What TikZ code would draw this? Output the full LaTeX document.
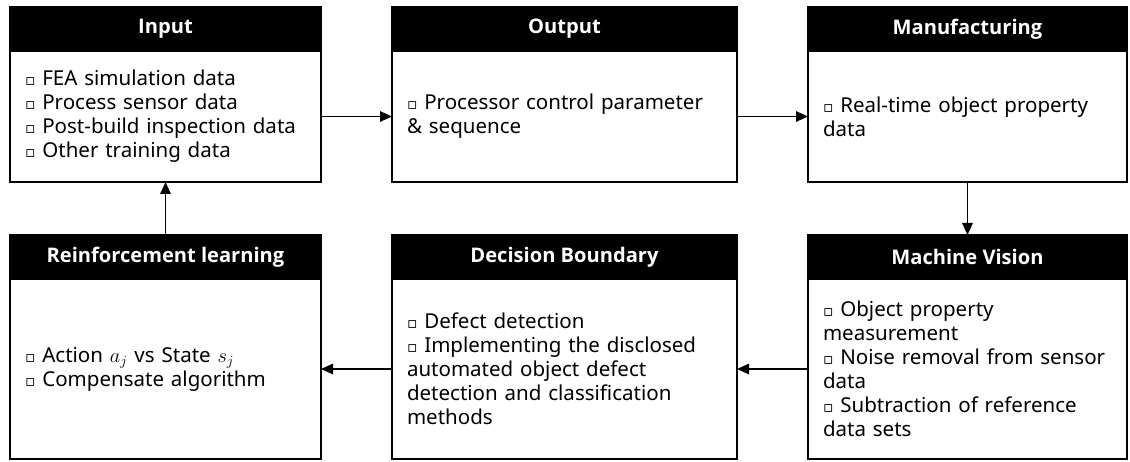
\documentclass[tikz,border=0pt]{standalone}
\usepackage{amsmath}
\usepackage{fontspec}
\setmainfont{Noto Sans}
\newfontfamily\symfont{DejaVu Sans}
\newfontfamily\headfont{Open Sans}
\usepackage{tikz}
\usetikzlibrary{arrows, arrows.meta, positioning}

\newcommand{\sqb}{{\symfont\fontsize{11}{11}\selectfont ▫}\ }
\newcommand{\boxfont}{\fontsize{14.6}{17}\selectfont}

\begin{document}
\begin{tikzpicture}[node distance=1.775cm, font=\boxfont]
		\tikzstyle{head} = [rectangle, minimum height=1.1cm, inner sep=0pt, outer sep=0pt, draw=black, fill=black, line width=2pt, text=white, font=\headfont\fontsize{14.3}{17}\selectfont\bfseries]
		
		\tikzstyle{body} = [rectangle, inner xsep=0.375cm, inner ysep=0pt, outer sep=0pt, draw=black, fill=white, line width=2pt, align=left]
		
		\tikzstyle{arrow} = [-{Triangle[length=0.3cm, width=0.26cm]}, line width=1.3pt]
		
		\useasboundingbox (0,0) rectangle (28.25,-11.55);
		
		% Top row
		\node (inhead) [head, minimum width=7.775cm, anchor=north west] at (0.25,-0.175) {Input};
		\node (in) [body, below=0pt of inhead, text width=7.025cm, minimum height=3.275cm] {\sqb FEA simulation data\\ \sqb Process sensor data\\ \sqb Post-build inspection data\\ \sqb Other training data};
		
		\node (outhead) [head, right=of inhead, minimum width=8.625cm] {Output};
		\node (out) [body, below=0pt of outhead, text width=7.875cm, minimum height=3.275cm] {\sqb Processor control parameter\\ \& sequence};
		
		\node (manhead) [head, right=of outhead, minimum width=7.975cm] {Manufacturing};
		\node (man) [body, below=0pt of manhead, text width=7.225cm, minimum height=3.275cm] {\sqb Real-time object property\\ data};
		
		% Bottom row
		\node (rlhead) [head, below=1.325cm of in, minimum width=7.775cm] {Reinforcement learning};
		\node (rl) [body, below=0pt of rlhead, text width=7.025cm, minimum height=4.5cm] {\sqb Action $a_j$ vs State $s_j$\\ \sqb Compensate algorithm};
		
		\node (dbhead) [head, below=1.325cm of out, minimum width=8.625cm] {Decision Boundary};
		\node (db) [body, below=0pt of dbhead, text width=7.875cm, minimum height=4.5cm] {\sqb Defect detection\\ \sqb Implementing the disclosed\\ automated object defect\\ detection and classification\\ methods};
		
		\node (mvhead) [head, below=1.325cm of man, minimum width=7.975cm] {Machine Vision};
		\node (mv) [body, below=0pt of mvhead, text width=7.225cm, minimum height=4.5cm] {\sqb Object property\\ measurement\\ \sqb Noise removal from sensor\\ data\\ \sqb Subtraction of reference\\ data sets};
		
		% Arrows
		\draw [arrow] (in.east) -- (out.west);
		\draw [arrow] (out.east) -- (man.west);
		\draw [arrow] (man.south) -- (mvhead.north);
		\draw [arrow] (mv.west) -- (db.east);
		\draw [arrow] (db.west) -- (rl.east);
		\draw [arrow] (rlhead.north) -- (in.south);
		
\end{tikzpicture}
\end{document}
